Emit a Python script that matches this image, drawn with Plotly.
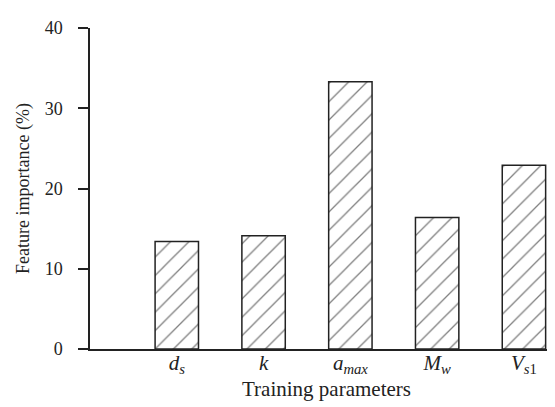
import plotly.graph_objects as go

categories = ["<i>d</i><sub><i>s</i></sub>", "<i>k</i>", "<i>a</i><sub><i>max</i></sub>",
              "<i>M</i><sub><i>w</i></sub>", "<i>V</i><sub><i>s</i>1</sub>"]
importance = [13.4, 14.1, 33.3, 16.4, 22.9]
y_ticks = [0, 10, 20, 30, 40]

x_pos = list(range(len(categories)))

fig = go.Figure()
fig.add_trace(go.Bar(
    x=x_pos, y=importance, width=0.5,
    marker=dict(color="white", line=dict(color="#222", width=1.5),
                pattern=dict(shape="/", fgcolor="black", bgcolor="white", size=13, solidity=0.1)),
    showlegend=False,
))

font_family = "Liberation Serif"
fig.update_layout(
    width=555, height=407,
    margin=dict(l=82, r=0, t=20, b=66),
    paper_bgcolor="white", plot_bgcolor="white",
    font=dict(family=font_family, size=18, color="#222"),
    xaxis=dict(range=[-1, 4.45], tickvals=x_pos, ticktext=categories,
               showline=True, linecolor="#222", linewidth=1.5, ticks="",
               ticklabelstandoff=-6,
               showgrid=False, zeroline=False, tickfont=dict(size=21),
               title=dict(text="Training parameters", font=dict(size=21), standoff=5)),
    yaxis=dict(range=[0, 40], tickvals=y_ticks, showline=True, linecolor="#222", linewidth=1.5,
               ticks="outside", ticklen=10, tickwidth=1.5, tickcolor="#222",
               ticklabelstandoff=12,
               showgrid=False, zeroline=False, tickfont=dict(size=18),
               title=dict(text="Feature importance (%)", font=dict(size=18), standoff=10)),
)

fig.write_html("out.html")
